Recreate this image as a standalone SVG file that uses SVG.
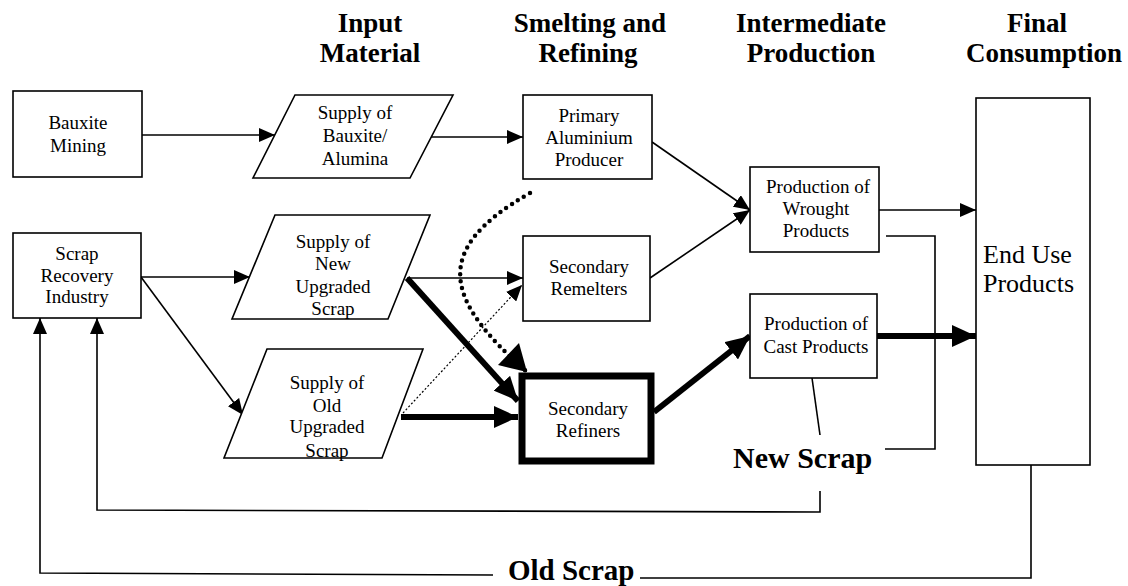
<svg xmlns="http://www.w3.org/2000/svg" width="1128" height="586" viewBox="0 0 1128 586">
<style>
.bg{fill:#fff}
.box{fill:#fff;stroke:#000;stroke-width:1.6}
.thickbox{fill:#fff;stroke:#000;stroke-width:7}
.t{font-family:"Liberation Serif","Times New Roman",serif;font-size:19px;fill:#000;text-anchor:middle}
.big{font-family:"Liberation Serif","Times New Roman",serif;font-size:26px;fill:#000}
.hd{font-family:"Liberation Serif","Times New Roman",serif;font-size:27px;font-weight:bold;fill:#000;text-anchor:middle}
.lbl{font-family:"Liberation Serif","Times New Roman",serif;font-size:29px;font-weight:bold;fill:#000}
.ln{fill:none;stroke:#000;stroke-width:1.6}
.thk{fill:none;stroke:#000;stroke-width:6}
.dot{fill:none;stroke:#000;stroke-width:1.2;stroke-dasharray:2 2}
.dotbig{fill:none;stroke:#000;stroke-width:4.5;stroke-linecap:round;stroke-dasharray:0 7}
</style>
<defs>
<marker id="a" markerUnits="userSpaceOnUse" markerWidth="16" markerHeight="14" refX="16" refY="7" orient="auto"><path d="M0,0 L16,7 L0,14 z" fill="#000"/></marker>
<marker id="b" markerUnits="userSpaceOnUse" markerWidth="24" markerHeight="22" refX="24" refY="11" orient="auto"><path d="M0,0 L24,11 L0,22 z" fill="#000"/></marker>
</defs>
<rect class="bg" x="0" y="0" width="1128" height="586"/>

<g id="headers">
<text class="hd" x="370" y="32">Input</text>
<text class="hd" x="370" y="62">Material</text>
<text class="hd" x="590" y="32">Smelting and</text>
<text class="hd" x="588" y="62">Refining</text>
<text class="hd" x="811" y="32">Intermediate</text>
<text class="hd" x="811" y="62">Production</text>
<text class="hd" x="1037" y="32">Final</text>
<text class="hd" x="1044" y="62">Consumption</text>
</g>

<g id="connectors">
<line class="ln" x1="142" y1="135" x2="275" y2="135" marker-end="url(#a)"/>
<line class="ln" x1="431" y1="137" x2="523" y2="137" marker-end="url(#a)"/>
<line class="ln" x1="141" y1="277" x2="250" y2="277" marker-end="url(#a)"/>
<line class="ln" x1="141" y1="277" x2="243" y2="415" marker-end="url(#a)"/>
<line class="ln" x1="407" y1="278" x2="523" y2="278" marker-end="url(#a)"/>
<line class="dot" x1="403" y1="413" x2="522" y2="285" marker-end="url(#a)"/>
<line class="thk" x1="407" y1="278" x2="518" y2="401" marker-end="url(#b)"/>
<line class="thk" x1="401" y1="417" x2="518" y2="417" marker-end="url(#b)"/>
<path class="dotbig" d="M530,193 C430,250 445,300 527,372"/>
<path d="M527,372 L498,365 L519,343 z" fill="#000"/>
<line class="ln" x1="652" y1="142" x2="750" y2="210" marker-end="url(#a)"/>
<line class="ln" x1="650" y1="278" x2="750" y2="210" marker-end="url(#a)"/>
<line class="thk" x1="654" y1="412" x2="750" y2="336" marker-end="url(#b)"/>
<line class="ln" x1="879" y1="210" x2="976" y2="210" marker-end="url(#a)"/>
<line class="thk" x1="877" y1="336" x2="976" y2="336" marker-end="url(#b)"/>
<polyline class="ln" points="886,236 935,236 935,449 885,449"/>
<line class="ln" x1="812" y1="378" x2="820" y2="435"/>
<polyline class="ln" points="820,491 820,512 97,510 97,318" marker-end="url(#a)"/>
<polyline class="ln" points="1031,465 1031,578 640,578"/>
<polyline class="ln" points="493,575 40,573 40,318" marker-end="url(#a)"/>
</g>

<g id="bauxite-mining">
<rect class="box" x="13" y="91" width="129" height="86"/>
<text class="t" x="78" y="129">Bauxite</text>
<text class="t" x="78" y="152">Mining</text>
</g>

<g id="scrap-recovery">
<rect class="box" x="13" y="233" width="128" height="85"/>
<text class="t" x="77" y="260">Scrap</text>
<text class="t" x="77" y="282">Recovery</text>
<text class="t" x="77" y="303">Industry</text>
</g>

<g id="supply-bauxite">
<polygon class="box" points="295,95 453,95 410,178 253,178"/>
<text class="t" x="355" y="119">Supply of</text>
<text class="t" x="355" y="142">Bauxite/</text>
<text class="t" x="355" y="165">Alumina</text>
</g>

<g id="supply-new">
<polygon class="box" points="275,215 430,215 388,319 232,319"/>
<text class="t" x="333" y="248">Supply of</text>
<text class="t" x="333" y="270">New</text>
<text class="t" x="333" y="293">Upgraded</text>
<text class="t" x="333" y="315">Scrap</text>
</g>

<g id="supply-old">
<polygon class="box" points="267,349 423,349 382,458 224,458"/>
<text class="t" x="327" y="389">Supply of</text>
<text class="t" x="327" y="412">Old</text>
<text class="t" x="327" y="433">Upgraded</text>
<text class="t" x="327" y="457">Scrap</text>
</g>

<g id="primary">
<rect class="box" x="523" y="95" width="129" height="84"/>
<text class="t" x="589" y="122">Primary</text>
<text class="t" x="589" y="144">Aluminium</text>
<text class="t" x="589" y="166">Producer</text>
</g>

<g id="remelters">
<rect class="box" x="523" y="236" width="127" height="85"/>
<text class="t" x="589" y="273">Secondary</text>
<text class="t" x="589" y="295">Remelters</text>
</g>

<g id="refiners">
<rect class="thickbox" x="522" y="376" width="129" height="85"/>
<text class="t" x="588" y="415">Secondary</text>
<text class="t" x="588" y="437">Refiners</text>
</g>

<g id="wrought">
<rect class="box" x="750" y="167" width="129" height="85"/>
<text class="t" x="818" y="193">Production of</text>
<text class="t" x="816" y="215">Wrought</text>
<text class="t" x="816" y="237">Products</text>
</g>

<g id="cast">
<rect class="box" x="750" y="294" width="127" height="84"/>
<text class="t" x="816" y="330">Production of</text>
<text class="t" x="816" y="353">Cast Products</text>
</g>

<g id="end-use">
<rect class="box" x="976" y="98" width="114" height="367"/>
<text class="big" x="983" y="263">End Use</text>
<text class="big" x="983" y="292">Products</text>
</g>

<g id="labels">
<text class="lbl" x="733" y="468" style="font-size:30px">New Scrap</text>
<text class="lbl" x="508" y="580">Old Scrap</text>
</g>
</svg>
